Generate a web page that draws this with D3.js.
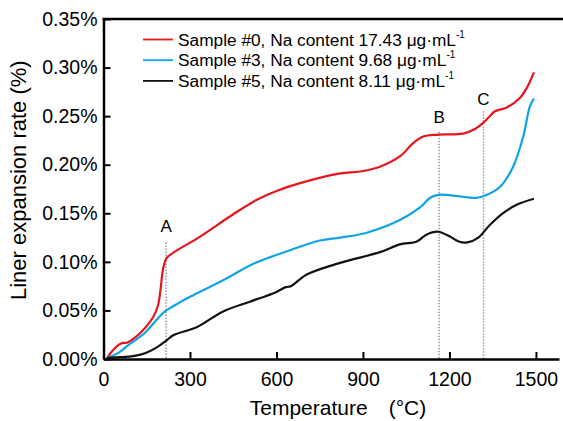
<!DOCTYPE html>
<html>
<head>
<meta charset="utf-8">
<script src="https://cdn.jsdelivr.net/npm/d3@7"></script>
<style>
  body { margin: 0; background: #fff; }
  svg { display: block; font-family: "Liberation Sans", Arial, sans-serif; }
</style>
</head>
<body>
<svg id="chart" width="563" height="421"></svg>
<script>
// temperature (°C), expansion rate (%)
const sample0 = [[12,0.001],[33,0.009],[50,0.014],[64,0.0163],[81,0.0168],[109,0.022],[144,0.032],[172,0.043],[189,0.055],[198,0.072],[205,0.090],[213,0.100],[222,0.105],[335,0.126],[450,0.149],[532,0.164],[600,0.173],[682,0.181],[821,0.191],[890,0.193],[959,0.198],[1030,0.209],[1073,0.222],[1109,0.229],[1161,0.231],[1247,0.232],[1290,0.237],[1317,0.243],[1334,0.248],[1358,0.255],[1399,0.259],[1445,0.269],[1470,0.280],[1493,0.295]];
const sample3 = [[12,0.001],[50,0.006],[85,0.014],[144,0.027],[189,0.042],[213,0.049],[240,0.054],[300,0.064],[415,0.081],[520,0.098],[647,0.112],[751,0.122],[821,0.125],[913,0.130],[1028,0.143],[1098,0.156],[1133,0.166],[1161,0.169],[1247,0.167],[1295,0.166],[1330,0.169],[1375,0.177],[1421,0.198],[1456,0.229],[1479,0.260],[1493,0.268]];
const sample5 = [[12,0.001],[60,0.002],[102,0.003],[144,0.006],[185,0.012],[220,0.0195],[242,0.0245],[325,0.033],[415,0.049],[508,0.059],[600,0.069],[632,0.074],[650,0.075],[705,0.087],[821,0.099],[959,0.110],[1028,0.118],[1087,0.121],[1120,0.128],[1161,0.131],[1202,0.126],[1232,0.121],[1262,0.120],[1300,0.125],[1340,0.138],[1385,0.150],[1435,0.159],[1493,0.165]];

const seriesNames = ["Sample #0, Na content 17.43 μg·mL", "Sample #3, Na content 9.68 μg·mL", "Sample #5, Na content 8.11 μg·mL"];
const seriesColors = ["#e8141c", "#0fa3e6", "#111111"];

// marker lines A, B, C: temperature, top of line, label baseline
const markLabels = ["A", "B", "C"];
const markTemps = [217, 1164, 1318];
const markTops = [0.12, 0.234, 0.255];
const markLabelY = [0.131, 0.243, 0.261];

const xTicks = [0, 300, 600, 900, 1200, 1500];
const yTicks = [0, 0.05, 0.10, 0.15, 0.20, 0.25, 0.30, 0.35];

const svg = d3.select("#chart");
const x = d3.scaleLinear().domain([0, 1580]).range([103.5, 559]);
const y = d3.scaleLinear().domain([0, 0.35]).range([359, 19]);

// top frame line
svg.append("line")
  .attr("x1", 102.5).attr("x2", 563)
  .attr("y1", y(0.35)).attr("y2", y(0.35))
  .attr("stroke", "#000").attr("stroke-width", 2.5);

// dotted markers
markTemps.forEach((t, i) => {
  svg.append("line")
    .attr("x1", x(t)).attr("x2", x(t))
    .attr("y1", y(markTops[i])).attr("y2", y(0))
    .attr("stroke", "#9a9a9a").attr("stroke-width", 1.5)
    .attr("stroke-dasharray", "1.5,1.5");
  svg.append("text")
    .attr("x", x(t)).attr("y", y(markLabelY[i]))
    .attr("text-anchor", "middle")
    .attr("font-size", 17)
    .text(markLabels[i]);
});

// curves
const line = d3.line()
  .x(d => x(d[0]))
  .y(d => y(d[1]))
  .curve(d3.curveCatmullRom.alpha(0.5));

[sample0, sample3, sample5].forEach((s, i) => {
  svg.append("path")
    .datum(s)
    .attr("d", line)
    .attr("fill", "none")
    .attr("stroke", seriesColors[i])
    .attr("stroke-width", 2.2)
    .attr("stroke-linejoin", "round");
});

// axes
const xAxis = svg.append("g")
  .attr("transform", `translate(0,${y(0)})`)
  .call(d3.axisBottom(x).tickValues(xTicks).tickSize(-7).tickSizeOuter(0).tickPadding(13)
    .tickFormat(d3.format("d")));
const yAxis = svg.append("g")
  .attr("transform", `translate(${x(0)},0)`)
  .call(d3.axisLeft(y).tickValues(yTicks).tickSize(-7).tickSizeOuter(0).tickPadding(6)
    .tickFormat(d => d.toFixed(2) + "%"));

[xAxis, yAxis].forEach(g => {
  g.select(".domain").attr("stroke", "#000").attr("stroke-width", 2.5);
  g.selectAll(".tick line").attr("stroke", "#000").attr("stroke-width", 2);
  g.selectAll(".tick text")
    .attr("fill", "#000")
    .attr("font-size", 19.5)
    .attr("font-family", "Liberation Sans, Arial, sans-serif");
});

// axis titles
svg.append("text")
  .attr("x", 338).attr("y", 415)
  .attr("text-anchor", "middle")
  .attr("font-size", 21)
  .text("Temperature\u2003(°C)");

svg.append("text")
  .attr("transform", "translate(25.5,300) rotate(-90)")
  .attr("font-size", 22)
  .text("Liner expansion rate (%)");

// legend
const legend = svg.append("g");
seriesNames.forEach((name, i) => {
  const cy = 39.5 + i * 20.7;
  legend.append("line")
    .attr("x1", 143).attr("x2", 173)
    .attr("y1", cy).attr("y2", cy)
    .attr("stroke", seriesColors[i]).attr("stroke-width", 1.8);
  const t = legend.append("text")
    .attr("x", 178).attr("y", cy + 6)
    .attr("font-size", 17.3);
  t.append("tspan").text(name);
  t.append("tspan").attr("dy", -8).attr("font-size", 10).text("-1");
});
</script>
</body>
</html>
